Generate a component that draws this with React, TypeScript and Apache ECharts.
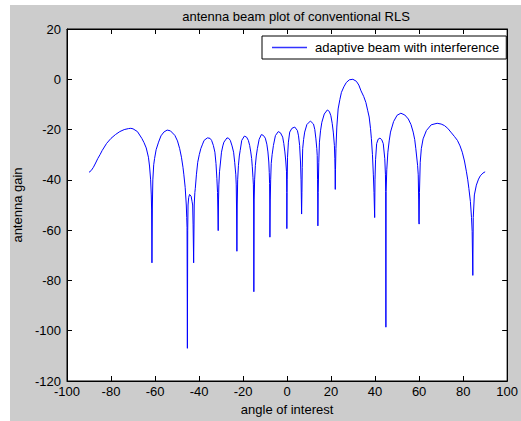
import React, { useEffect, useRef } from "react";
import * as echarts from "echarts";

const titleText = "antenna beam plot of conventional RLS";
const seriesName = "adaptive beam with interference";
const xAxisName = "angle of interest";
const yAxisName = "antenna gain";

// angle (deg)
const angleDeg: number[] = [
  -90, -89, -88, -87, -86, -85, -84, -82, -80, -78, -76, -74, -72, -71, -70, -68, -66, -65, -64, -63, -62.5, -62, -61.7, -61.55, -61.4, -61.2, -61.0, -60.6, -60.2, -59.5, -58.4, -57.3, -56, -54.5, -53, -51, -49.8, -48.8, -48, -47.3, -46.9, -46.3, -45.8, -45.6, -45.45, -45.3, -45.15, -45.0, -44.7, -44.3, -44.0, -43.6, -43.2, -42.9, -42.7, -42.45, -42.2, -41.9, -41.7, -41.2, -40.6, -39.9, -39.2, -38.4, -37.7, -36.2, -35, -34.3, -33.5, -32.8, -32.3, -31.9, -31.6, -31.45, -31.3, -31.15, -31.0, -30.7, -30.2, -29.8, -29.2, -28.7, -27.3, -26.5, -25.8, -25, -24.3, -23.8, -23.3, -23.1, -22.95, -22.8, -22.65, -22.45, -22.1, -21.7, -21.3, -20.6, -19.4, -18.4, -17.6, -17, -16.5, -16.1, -15.8, -15.5, -15.3, -15.2, -15.1, -14.95, -14.75, -14.4, -14, -13.5, -12.7, -11.7, -10.8, -9.9, -9.2, -8.7, -8.3, -8.1, -7.95, -7.85, -7.8, -7.65, -7.45, -7.2, -6.8, -6.2, -5.3, -4, -3, -2, -1.5, -1, -0.6, -0.25, -0.15, -0.1, 0.0, 0.05, 0.2, 0.6, 1.2, 2.2, 3.5, 4.7, 5.2, 5.7, 6.1, 6.35, 6.5, 6.6, 6.75, 6.9, 7.1, 7.5, 8, 9, 10.6, 12, 12.6, 13.1, 13.5, 13.7, 13.85, 13.95, 14, 14.15, 14.4, 14.7, 15.2, 15.8, 16.9, 18.3, 19.2, 19.9, 20.5, 21, 21.5, 21.7, 21.8, 21.9, 22.0, 22.2, 22.6, 23.2, 24, 24.7, 25.8, 26.9, 28.3, 29.9, 31.5, 32.6, 33.6, 34.8, 35.8, 36.6, 37.3, 37.9, 38.3, 38.8, 39.2, 39.5, 39.65, 39.8, 39.95, 40.2, 40.7, 41.4, 42.2, 43, 43.7, 44.4, 44.7, 44.8, 44.9, 45.0, 45.3, 45.8, 46.4, 47, 48.4, 50, 51.7, 53.5, 55.1, 56.3, 57.3, 58, 58.5, 59.3, 59.6, 59.8, 59.9, 60, 60.15, 60.5, 61, 61.8, 63.3, 65.5, 68.2, 70, 71.5, 73, 74.4, 76, 77.4, 78.6, 79.6, 80.6, 81.5, 82.1, 82.6, 83.3, 83.8, 84.1, 84.4, 84.6, 85.1, 86, 87, 87.8, 89, 90,
];

// gain (dB), one per angle above
const gainDb: number[] = [
  -37, -36.3, -35, -33.3, -31.5, -30, -28.3, -25.5, -23.5, -22, -20.8, -20, -19.6, -19.5, -19.7, -20.8, -23.5, -25.2, -27.3, -31, -34.5, -40, -46, -52, -73, -50, -40, -34, -31.5, -28, -25, -22.5, -21, -20.2, -20.5, -22.3, -24.5, -27.6, -31, -35, -38, -43, -50, -55, -59, -107, -60, -50, -47, -45.8, -45.8, -46.5, -48.5, -50, -57.9, -73, -50, -45, -43.4, -38, -33, -30, -27.6, -25.8, -24.3, -23.3, -23.5, -24.3, -26.3, -29, -33.5, -39.4, -45, -52, -60.2, -48, -42, -36.8, -32.5, -29, -26.5, -25, -23.3, -23.5, -24.3, -26.5, -29, -33, -38, -42, -52, -68.4, -50, -40, -34.2, -30.5, -28.3, -24.3, -22.6, -23, -24.3, -26.3, -28.9, -31.5, -34.8, -39, -42, -50, -84.5, -48, -40, -34.2, -30.5, -27.6, -23.9, -22, -22.3, -23.4, -25.8, -28.9, -32.9, -37, -41.4, -50, -62.8, -48, -40, -33.5, -30, -26.3, -22.4, -20.8, -21.3, -23, -25.5, -28.9, -32.5, -36.8, -45, -59.4, -45, -40, -31, -25, -21, -19.5, -19, -20.4, -22.5, -26.3, -32.9, -40, -48, -53.6, -45, -35, -27.6, -24, -21, -18, -16.6, -17.8, -20, -23.7, -27.5, -30.3, -40, -50, -58.3, -45, -33, -25, -20.5, -17.1, -13.8, -12.2, -12.8, -14.5, -17.5, -21, -26.3, -31.6, -36, -43.8, -36, -27.6, -19, -11.8, -8, -5.2, -3, -1.3, -0.2, 0, -0.8, -2.3, -4.6, -6.8, -9.2, -12.3, -15, -19.5, -23.5, -30, -38, -45, -50, -55, -40, -32, -25.6, -23.8, -23.4, -24, -25.6, -31.6, -38, -44.7, -98.6, -44.6, -36, -29, -24.5, -21, -16.8, -14.3, -13.5, -14.2, -15.8, -18, -21, -24, -27.6, -34.2, -38, -48, -56.4, -57.6, -45, -33, -27.6, -23.7, -20.4, -18.1, -17.5, -17.8, -18.4, -19.5, -21, -22.7, -24.3, -26.5, -29, -32.5, -36.8, -40, -43.4, -48.6, -55, -60.5, -78, -55, -46, -42.1, -39.7, -38.4, -37.3, -36.8,
];

const xMin = -100;
const xMax = 100;
const xStep = 20;
const yMin = -120;
const yMax = 20;
const yStep = 20;

const FONT = "'Liberation Sans', Arial, Helvetica, sans-serif";

export default function App() {
  const ref = useRef<HTMLDivElement>(null);

  useEffect(() => {
    if (!ref.current) return;
    const chart = echarts.init(ref.current, undefined, { renderer: "svg" });
    const points = angleDeg.map((a, i) => [a, gainDb[i]]);
    const axisText = { color: "#000", fontSize: 13, fontFamily: FONT };
    const tick = { show: true, inside: true, length: 5, lineStyle: { color: "#000", width: 1 } };
    const line = { show: true, onZero: false, lineStyle: { color: "#000", width: 1 } };

    chart.setOption({
      animation: false,
      textStyle: { fontFamily: FONT },
      title: {
        text: titleText,
        left: 291,
        top: 5,
        textAlign: "center",
        textStyle: { fontSize: 13, fontWeight: "normal", color: "#000", fontFamily: FONT },
      },
      legend: {
        data: [{ name: seriesName, icon: "path://M0,0H70V3H0Z" }],
        left: 262,
        top: 36,
        padding: [5, 7, 5, 10],
        itemWidth: 35,
        itemHeight: 14,
        symbolKeepAspect: true,
        backgroundColor: "#fff",
        borderColor: "#000",
        borderWidth: 1,
        borderRadius: 0,
        itemStyle: { color: "#3333ff" },
        textStyle: { color: "#000", fontSize: 13, fontFamily: FONT, padding: [0, 0, 0, 3] },
      },
      grid: {
        left: 67,
        top: 29,
        width: 449,
        height: 354,
        show: true,
        backgroundColor: "#fff",
        borderColor: "#000",
        borderWidth: 1,
      },
      xAxis: [
        {
          type: "value",
          min: xMin,
          max: xMax,
          interval: xStep,
          position: "bottom",
          axisLine: line,
          axisTick: tick,
          splitLine: { show: false },
          axisLabel: { ...axisText, margin: 4 },
          name: xAxisName,
          nameLocation: "middle",
          nameGap: 22,
          nameTextStyle: { ...axisText },
        },
        {
          type: "value",
          min: xMin,
          max: xMax,
          interval: xStep,
          position: "top",
          axisLine: line,
          axisTick: tick,
          splitLine: { show: false },
          axisLabel: { show: false },
        },
      ],
      yAxis: [
        {
          type: "value",
          min: yMin,
          max: yMax,
          interval: yStep,
          position: "left",
          axisLine: line,
          axisTick: tick,
          splitLine: { show: false },
          axisLabel: { ...axisText, margin: 6 },
          name: yAxisName,
          nameLocation: "middle",
          nameGap: 36,
          nameTextStyle: { ...axisText },
        },
        {
          type: "value",
          min: yMin,
          max: yMax,
          interval: yStep,
          position: "right",
          axisLine: line,
          axisTick: tick,
          splitLine: { show: false },
          axisLabel: { show: false },
        },
      ],
      series: [
        {
          name: seriesName,
          type: "line",
          xAxisIndex: 0,
          yAxisIndex: 0,
          data: points,
          symbol: "none",
          showSymbol: false,
          lineStyle: { color: "#0000ff", width: 1 },
          itemStyle: { color: "#0000ff" },
        },
      ],
    });
    return () => chart.dispose();
  }, []);

  return (
    <div style={{ position: "fixed", left: 0, top: 0, width: 521, height: 421, background: "#fff", overflow: "hidden" }}>
      <div style={{ position: "absolute", left: 10, top: 5, right: 0, bottom: 0, background: "#cccccc" }} />
      <div ref={ref} style={{ position: "absolute", left: 0, top: 0, width: 521, height: 421 }} />
    </div>
  );
}
